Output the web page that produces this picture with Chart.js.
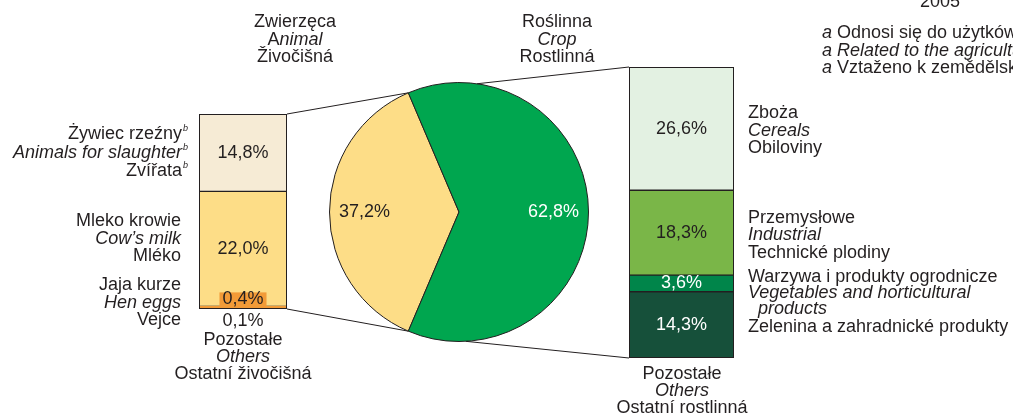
<!DOCTYPE html>
<html>
<head>
<meta charset="utf-8">
<script src="https://cdn.jsdelivr.net/npm/chart.js@4.4.1/dist/chart.umd.min.js"></script>
<style>
  html, body { margin: 0; padding: 0; background: #fff; }
  body { width: 1013px; height: 414px; overflow: hidden; position: relative;
         font-family: 'Liberation Sans', Arial, sans-serif; color: #231f20; }
  canvas { position: absolute; }
  .t { position: absolute; white-space: nowrap; font-size: 18px; line-height: 20px; }
  .i { font-style: italic; }
  .n { font-style: normal; }
  .sup { font-size: 9px; font-style: italic; position: relative; top: -8px; margin-left: 1px; }
</style>
</head>
<body>
<canvas id="links" width="1013" height="414" style="left:0;top:0"></canvas>
<canvas id="animalBar" width="92" height="224" style="left:197px;top:112px"></canvas>
<canvas id="sectorPie" width="264" height="264" style="left:327px;top:80px"></canvas>
<canvas id="cropBar" width="109" height="295" style="left:627px;top:65px"></canvas>

<script>
// Structure of agricultural output, 2005 (shares in %)
const sectorPL = ['Zwierzęca', 'Roślinna'];
const sectorEN = ['Animal', 'Crop'];
const sectorCZ = ['Živočišná', 'Rostlinná'];
const sectorShares = [37.2, 62.8];

const animalPL = ['Żywiec rzeźny', 'Mleko krowie', 'Jaja kurze', 'Pozostałe'];
const animalEN = ['Animals for slaughter', 'Cow’s milk', 'Hen eggs', 'Others'];
const animalCZ = ['Zvířata', 'Mléko', 'Vejce', 'Ostatní živočišná'];
const animalShares = [14.8, 22.0, 0.4, 0.1];

const cropPL = ['Zboża', 'Przemysłowe', 'Warzywa i produkty ogrodnicze', 'Pozostałe'];
const cropEN = ['Cereals', 'Industrial', 'Vegetables and horticultural', 'Others'];
const cropCZ = ['Obiloviny', 'Technické plodiny', 'Zelenina a zahradnické produkty', 'Ostatní rostlinná'];
const cropShares = [26.6, 18.3, 3.6, 14.3];

const yearLabel = '2005';
const footnotePL = 'Odnosi się do użytków rolnych';
const footnoteEN = 'Related to the agricultural land';
const footnoteCZ = 'Vztaženo k zemědělské půdě';

// colours
const INK = '#231f20';
const sectorColors = ['#fddd87', '#00a64f'];
const animalColors = ['#f6ebd5', '#fddd87', '#f29b38', '#6b3d1c'];
const cropColors = ['#e3f1e2', '#7ab648', '#00854a', '#16503a'];
const animalLabelColors = [INK, INK, INK, INK];
const cropLabelColors = [INK, INK, '#ffffff', '#ffffff'];

const FONT = '18px "Liberation Sans", Arial, sans-serif';
const fmt = v => v.toFixed(1).replace('.', ',') + '%';
const sum = a => a.reduce((s, v) => s + v, 0);

// value labels on the stacked column segments
const columnLabels = {
  id: 'columnLabels',
  afterDatasetsDraw(chart) {
    const ctx = chart.ctx;
    ctx.save();
    ctx.font = FONT;
    ctx.textAlign = 'center';
    ctx.textBaseline = 'middle';
    chart.data.datasets.forEach((ds, i) => {
      const el = chart.getDatasetMeta(i).data[0];
      const txt = fmt(ds.data[0]);
      const top = Math.min(el.y, el.base), bottom = Math.max(el.y, el.base);
      if (ds.labelPlace === 'above') {
        const w = ctx.measureText(txt).width + 6;
        ctx.fillStyle = ds.backgroundColor;
        ctx.fillRect(el.x - w / 2, top - 14, w, 14);
        ctx.fillStyle = ds.labelColor;
        ctx.fillText(txt, el.x, top - 7);
      } else if (ds.labelPlace === 'below') {
        ctx.fillStyle = ds.labelColor;
        ctx.fillText(txt, el.x, bottom + 12);
      } else {
        ctx.fillStyle = ds.labelColor;
        ctx.fillText(txt, el.x, (top + bottom) / 2);
      }
    });
    ctx.restore();
  }
};

// outline round the whole column
const columnFrame = {
  id: 'columnFrame',
  afterDatasetsDraw(chart) {
    const a = chart.chartArea, y = chart.scales.y;
    const ctx = chart.ctx;
    ctx.save();
    ctx.strokeStyle = INK;
    ctx.lineWidth = 1;
    ctx.strokeRect(a.left + 0.5, y.getPixelForValue(y.max) + 0.5,
                   a.right - a.left - 1, y.getPixelForValue(0) - y.getPixelForValue(y.max) - 1);
    ctx.restore();
  }
};

function stackedColumn(id, values, colors, labelColors, places, padding) {
  const order = values.map((v, i) => i).reverse(); // bottom segment first
  return new Chart(document.getElementById(id), {
    type: 'bar',
    data: {
      labels: [''],
      datasets: order.map(i => ({
        data: [values[i]],
        backgroundColor: colors[i],
        borderColor: INK,
        borderWidth: places[i] === 'inside' ? 1 : 0,
        borderSkipped: false,
        labelColor: labelColors[i],
        labelPlace: places[i],
        barPercentage: 1,
        categoryPercentage: 1
      }))
    },
    options: {
      responsive: false,
      animation: false,
      events: [],
      layout: { padding },
      plugins: { legend: { display: false }, tooltip: { enabled: false } },
      scales: {
        x: { display: false, stacked: true },
        y: { display: false, stacked: true, min: 0, max: sum(values) }
      }
    },
    plugins: [columnFrame, columnLabels]
  });
}

const animalChart = stackedColumn('animalBar', animalShares, animalColors, animalLabelColors,
  ['inside', 'inside', 'above', 'below'], { top: 2, left: 2, right: 2, bottom: 27 });
const cropChart = stackedColumn('cropBar', cropShares, cropColors, cropLabelColors,
  ['inside', 'inside', 'inside', 'inside'], 2);

// value labels inside the pie slices
const sliceLabels = {
  id: 'sliceLabels',
  afterDatasetsDraw(chart) {
    const ctx = chart.ctx;
    const ds = chart.data.datasets[0];
    ctx.save();
    ctx.font = FONT;
    ctx.textAlign = 'center';
    ctx.textBaseline = 'middle';
    chart.getDatasetMeta(0).data.forEach((arc, i) => {
      const mid = (arc.startAngle + arc.endAngle) / 2;
      const r = arc.outerRadius * 0.73;
      ctx.fillStyle = i === 0 ? INK : '#ffffff';
      ctx.fillText(fmt(ds.data[i]), arc.x + Math.cos(mid) * r, arc.y + Math.sin(mid) * r);
    });
    ctx.restore();
  }
};

const pieChart = new Chart(document.getElementById('sectorPie'), {
  type: 'pie',
  data: {
    labels: sectorPL,
    datasets: [{
      data: sectorShares,
      backgroundColor: sectorColors,
      borderColor: INK,
      borderWidth: 1,
      hoverOffset: 0
    }]
  },
  options: {
    responsive: false,
    animation: false,
    events: [],
    rotation: 270 - sectorShares[0] * 1.8, // animal slice centred on the left
    layout: { padding: 2 },
    plugins: { legend: { display: false }, tooltip: { enabled: false } }
  },
  plugins: [sliceLabels]
});

// connector lines between the columns and the pie
(function drawLinks() {
  const ctx = document.getElementById('links').getContext('2d');
  const off = c => ({ x: parseFloat(c.canvas.style.left), y: parseFloat(c.canvas.style.top) });
  const po = off(pieChart), ao = off(animalChart), co = off(cropChart);
  const arcs = pieChart.getDatasetMeta(0).data;
  const a0 = arcs[0];
  const onCircle = ang => ({ x: po.x + a0.x + Math.cos(ang) * a0.outerRadius,
                             y: po.y + a0.y + Math.sin(ang) * a0.outerRadius });

  const ay = animalChart.scales.y, ax = animalChart.getDatasetMeta(0).data[0];
  const aRight = ao.x + ax.x + ax.width / 2;
  const aTop = ao.y + ay.getPixelForValue(ay.max), aBot = ao.y + ay.getPixelForValue(0);

  const cy = cropChart.scales.y, cx = cropChart.getDatasetMeta(0).data[0];
  const cLeft = co.x + cx.x - cx.width / 2;
  const cTop = co.y + cy.getPixelForValue(cy.max), cBot = co.y + cy.getPixelForValue(0);

  const deg = Math.PI / 180;
  const segs = [
    [{ x: aRight, y: aTop }, onCircle(a0.endAngle)],
    [{ x: aRight, y: aBot }, onCircle(a0.startAngle)],
    [{ x: cLeft, y: cTop }, onCircle(-82 * deg)],
    [{ x: cLeft, y: cBot }, onCircle(87 * deg)]
  ];
  ctx.strokeStyle = INK;
  ctx.lineWidth = 1;
  segs.forEach(([p, q]) => {
    ctx.beginPath();
    ctx.moveTo(p.x, p.y);
    ctx.lineTo(q.x, q.y);
    ctx.stroke();
  });
})();

// annotation text
function text(x, y, html, align, cls) {
  const d = document.createElement('div');
  d.className = 't' + (cls ? ' ' + cls : '');
  d.innerHTML = html;
  d.style.top = (y - 10) + 'px';
  document.body.appendChild(d);
  const w = d.getBoundingClientRect().width;
  d.style.left = (align === 'center' ? x - w / 2 : align === 'right' ? x - w : x) + 'px';
}
const sup = '<span class="sup">b</span>';

[295, 557].forEach((x, i) => {
  text(x, 21, sectorPL[i], 'center');
  text(x, 38.5, i === 0 ? '<span class="n">A</span>nimal' : sectorEN[i], 'center', 'i');
  text(x, 56, sectorCZ[i], 'center');
});

// animal items (left of the column)
const animalRows = [[133, 151.5, 170], [220, 237.5, 255], [284, 301.5, 319]];
animalRows.forEach((ys, i) => {
  const s = i === 0 ? sup : '';
  const shift = i === 0 ? 7 : 0;
  text(181 + shift, ys[0], animalPL[i] + s, 'right');
  text(181 + shift, ys[1], animalEN[i] + s, 'right', 'i');
  text(181 + shift, ys[2], animalCZ[i] + s, 'right');
});
text(243, 339, animalPL[3], 'center');
text(243, 356, animalEN[3], 'center', 'i');
text(243, 373, animalCZ[3], 'center');

// crop items (right of the column)
text(748, 112, cropPL[0]); text(748, 129.5, cropEN[0], 'left', 'i'); text(748, 147, cropCZ[0]);
text(748, 217, cropPL[1]); text(748, 234, cropEN[1], 'left', 'i'); text(748, 252, cropCZ[1]);
text(748, 276, cropPL[2]); text(748, 292, cropEN[2], 'left', 'i');
text(758, 308, 'products', 'left', 'i'); text(748, 326, cropCZ[2]);
text(682, 373, cropPL[3], 'center');
text(682, 390, cropEN[3], 'center', 'i');
text(682, 407, cropCZ[3], 'center');

// year and footnote
text(940, 1, yearLabel, 'center');
text(822, 32, '<i>a</i> ' + footnotePL);
text(822, 50, '<i>a ' + footnoteEN + '</i>');
text(822, 67, '<i>a</i> ' + footnoteCZ);
</script>
</body>
</html>
